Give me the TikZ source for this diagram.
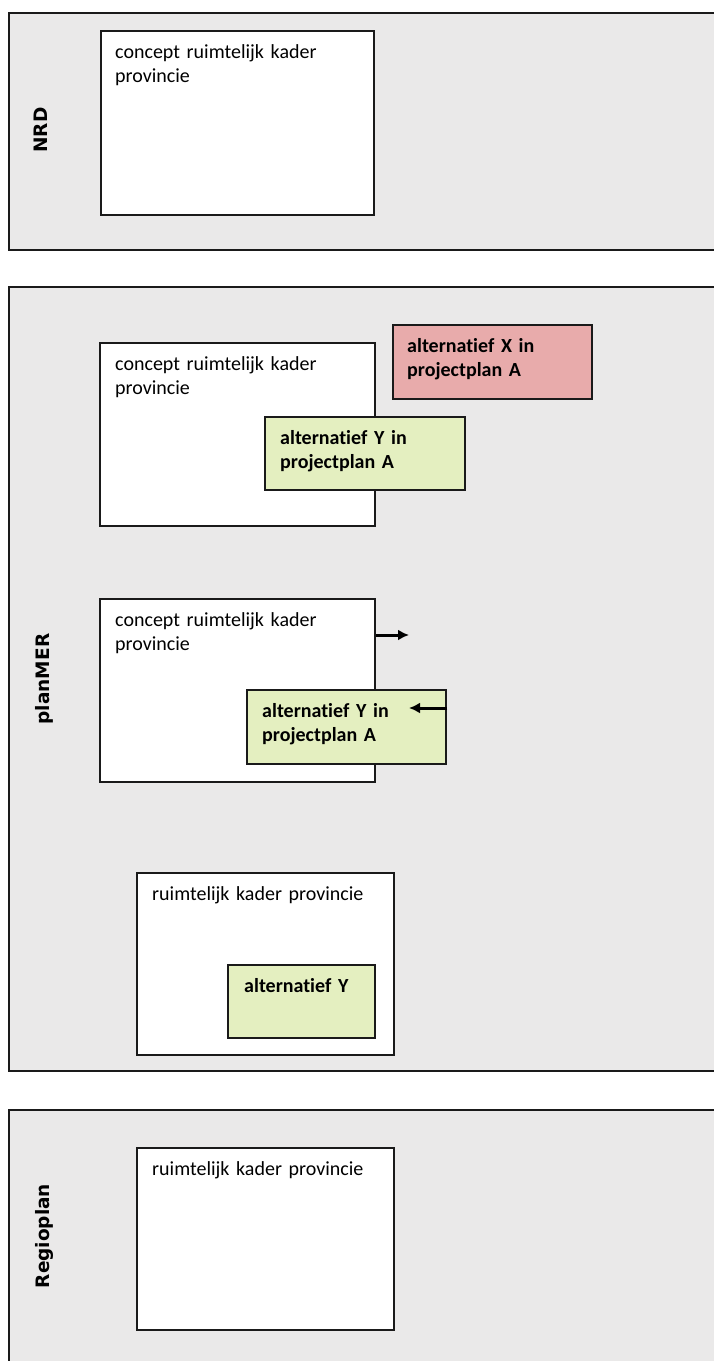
\documentclass[tikz,border=0pt]{standalone}
\usepackage{fontspec}
\setmainfont{Carlito}[Ligatures=NoCommon]
\newfontfamily\labfont{DejaVu Sans}
\usetikzlibrary{calc,arrows.meta}
\definecolor{panelfill}{HTML}{EAE9E9}
\definecolor{redfill}{HTML}{E8ABAB}
\definecolor{greenfill}{HTML}{E4EFC0}
\definecolor{edge}{HTML}{1A1A1A}
\tikzset{
  panel/.style={draw=edge, line width=1.6pt, fill=panelfill},
  box/.style={draw=edge, line width=2.4pt, fill=white, inner sep=0pt, anchor=north west},
  redbox/.style={box, fill=redfill},
  greenbox/.style={box, fill=greenfill},
  txt/.style={font=\fontsize{20}{24}\selectfont, inner sep=0pt, anchor=base west, text width=260pt, align=left},
  btxt/.style={txt, font=\fontsize{20}{24}\selectfont\bfseries},
  sidelabel/.style={font=\labfont\fontsize{18.5}{20}\selectfont\bfseries, rotate=90, inner sep=0pt},
  flow/.style={line width=3pt, -{Latex[length=11pt,width=11pt]}}
}
\begin{document}
\begin{tikzpicture}[x=1pt,y=-1pt]
\useasboundingbox (0,0) rectangle (714,1361);
\clip (0,0) rectangle (714,1361);
\fill[white] (0,0) rectangle (714,1361);
% panels
\draw[panel] (9,13) rectangle (740,250);
\draw[panel] (9,287) rectangle (740,1071);
\draw[panel] (9,1110) rectangle (740,1390);
\node[sidelabel] (lnrd) at (41,130) {NRD};
\node[sidelabel] (lplan) at (44,679) {planMER};
\node[sidelabel] (lregio) at (44,1236) {Regioplan};
% NRD
\node[box, minimum width=273pt, minimum height=184pt] (nrd) at (100,30) {};
\node[txt] (nrdt) at ($(nrd.north west)+(15,28)$) {concept ruimtelijk kader\\provincie};
% planMER top
\node[box, minimum width=275pt, minimum height=183pt] (c1) at (99,342) {};
\node[txt] (c1t) at ($(c1.north west)+(16,28)$) {concept ruimtelijk kader\\provincie};
\node[redbox, minimum width=199pt, minimum height=74pt] (rx) at (392,324) {};
\node[btxt] (rxt) at ($(rx.north west)+(15,28)$) {alternatief X in\\projectplan A};
\node[greenbox, minimum width=200pt, minimum height=73pt] (gy1) at (264,416) {};
\node[btxt] (gy1t) at ($(gy1.north west)+(16,28)$) {alternatief Y in\\projectplan A};
% planMER middle
\node[box, minimum width=275pt, minimum height=183pt] (c2) at (99,598) {};
\node[txt] (c2t) at ($(c2.north west)+(16,28)$) {concept ruimtelijk kader\\provincie};
\node[greenbox, minimum width=199pt, minimum height=74pt] (gy2) at (246,689) {};
\node[btxt] (gy2t) at ($(gy2.north west)+(16,28)$) {alternatief Y in\\projectplan A};
\coordinate (a1end) at (409,635);
\coordinate (a2end) at (409,708);
\draw[flow] (c2.east |- a1end) -- (a1end);
\draw[flow] (gy2.east |- a2end) -- (a2end);
% planMER bottom
\node[box, minimum width=257pt, minimum height=182pt] (k1) at (136,872) {};
\node[txt] (k1t) at ($(k1.north west)+(16,28)$) {ruimtelijk kader provincie};
\node[greenbox, minimum width=147pt, minimum height=73pt] (gy3) at (227,964) {};
\node[btxt] (gy3t) at ($(gy3.north west)+(17,28)$) {alternatief Y};
% Regioplan
\node[box, minimum width=257pt, minimum height=182pt] (k2) at (136,1147) {};
\node[txt] (k2t) at ($(k2.north west)+(16,28)$) {ruimtelijk kader provincie};
\end{tikzpicture}
\end{document}
